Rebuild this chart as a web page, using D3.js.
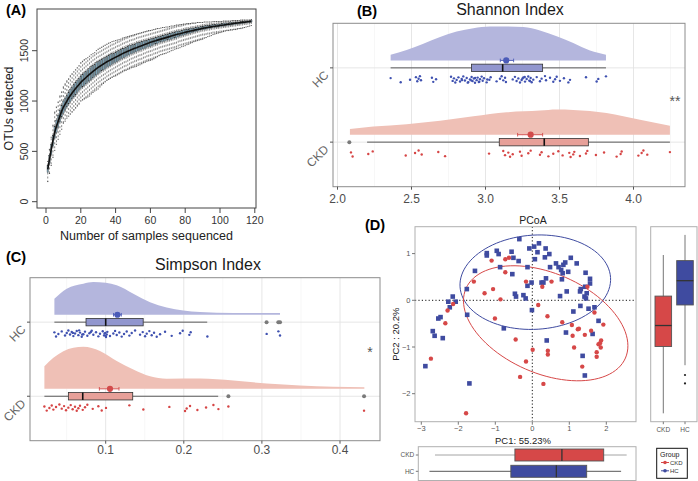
<!DOCTYPE html>
<html><head><meta charset="utf-8">
<script src="https://cdn.jsdelivr.net/npm/d3@7/dist/d3.min.js"></script>
<style>
body{margin:0;background:#fff;}
svg{display:block;font-family:"Liberation Sans",Arial,Helvetica,sans-serif;}
</style></head><body>
<svg id="c" width="698" height="481"></svg>
<script>
// ================= DATA =================
// (A) rarefaction: OTUs detected per number of samples sequenced
const rareMedian=[320,420,520,610,690,750,800,850,900,940,970,1000,1030,1055,1080,1102,1124,1145,1165,1185,1202,1218,1234,1250,1265,1280,1294,1308,1322,1335,1346,1357,1368,1379,1390,1399,1408,1417,1426,1435,1444,1453,1462,1471,1480,1487,1495,1502,1510,1517,1524,1530,1537,1543,1550,1557,1563,1570,1576,1583,1588,1594,1599,1605,1610,1615,1620,1625,1630,1635,1640,1645,1650,1655,1660,1665,1669,1674,1678,1683,1687,1691,1695,1699,1703,1707,1711,1714,1718,1722,1725,1728,1731,1734,1737,1740,1742,1745,1747,1750,1753,1755,1758,1760,1763,1765,1768,1770,1773,1775,1777,1779,1781,1783,1785,1787,1789,1791];
const rareLow=[200,280,360,440,510,570,620,670,720,780,800,830,850,870,890,910,930,950,970,1000,1010,1020,1030,1040,1050,1070,1085,1100,1110,1120,1140,1160,1175,1190,1205,1215,1225,1235,1245,1250,1260,1270,1280,1290,1300,1305,1315,1320,1330,1335,1340,1345,1355,1360,1370,1380,1385,1395,1400,1405,1410,1420,1430,1440,1450,1460,1465,1470,1475,1485,1490,1500,1505,1515,1520,1525,1530,1540,1545,1550,1560,1565,1575,1580,1590,1595,1600,1605,1610,1615,1625,1630,1640,1645,1650,1660,1665,1670,1675,1680,1685,1690,1695,1700,1700,1705,1705,1710,1710,1715,1720,1720,1725,1730,1735,1740,1745,1750];
const rareQ1=[290,380,470,550,630,690,740,790,840,880,910,940,970,995,1020,1040,1060,1085,1105,1125,1140,1155,1170,1185,1200,1215,1230,1245,1260,1275,1285,1300,1310,1320,1335,1345,1355,1365,1375,1385,1395,1405,1415,1425,1435,1440,1450,1460,1470,1475,1485,1490,1500,1505,1510,1520,1525,1535,1540,1545,1550,1560,1565,1570,1580,1585,1590,1595,1600,1605,1610,1615,1620,1625,1630,1640,1645,1650,1655,1660,1665,1670,1675,1680,1685,1690,1695,1700,1705,1710,1710,1715,1720,1720,1725,1730,1730,1735,1735,1740,1740,1745,1745,1750,1750,1755,1755,1760,1760,1765,1765,1770,1770,1775,1775,1780,1780,1785];
const rareQ3=[360,460,570,660,750,810,860,910,960,1000,1030,1060,1090,1115,1140,1165,1185,1205,1225,1250,1265,1280,1295,1310,1325,1340,1355,1365,1380,1390,1400,1410,1420,1430,1440,1450,1460,1470,1475,1485,1495,1500,1510,1520,1525,1535,1540,1550,1555,1560,1565,1575,1580,1585,1590,1595,1600,1605,1610,1615,1620,1625,1630,1635,1640,1645,1650,1655,1660,1665,1670,1675,1680,1685,1690,1695,1695,1700,1705,1710,1715,1715,1720,1725,1725,1730,1735,1735,1740,1745,1745,1750,1750,1755,1755,1760,1760,1760,1765,1765,1770,1770,1775,1775,1775,1780,1780,1780,1785,1785,1785,1790,1790,1790,1795,1795,1795,1800];
const rareHigh=[400,520,640,760,890,940,990,1050,1090,1140,1170,1200,1220,1250,1270,1290,1310,1330,1350,1380,1395,1410,1420,1430,1445,1460,1470,1480,1500,1515,1525,1535,1545,1555,1565,1575,1580,1590,1595,1600,1605,1610,1615,1625,1630,1635,1640,1645,1650,1655,1660,1665,1670,1675,1680,1685,1690,1695,1700,1700,1705,1710,1715,1720,1720,1725,1730,1730,1735,1735,1740,1745,1745,1750,1755,1755,1760,1760,1765,1765,1770,1770,1770,1775,1775,1775,1780,1780,1780,1780,1785,1785,1785,1785,1785,1790,1790,1790,1790,1790,1790,1795,1795,1795,1795,1795,1800,1800,1800,1800,1800,1805,1805,1805,1805,1805,1805,1810];
const rareSamples=d3.range(1,rareMedian.length+1);
const rareXTicks=[0,20,40,60,80,100,120];
const rareYTicks=[0,500,1000,1500];

// (B) Shannon index
const groups=["HC","CKD"];
const shannonTicks=[2.0,2.5,3.0,3.5,4.0];
const shannonMinor=[2.25,2.75,3.25,3.75,4.25];
const shHCGrid=[2.359,2.467,2.580,2.693,2.805,2.918,3.030,3.143,3.256,3.368,3.481,3.593,3.706,3.814];
const shHCDens=[0.17,0.31,0.49,0.69,0.85,0.95,1.0,1.0,0.98,0.88,0.71,0.51,0.29,0.17];
const shCKDGrid=[2.084,2.242,2.467,2.693,2.918,3.143,3.368,3.481,3.593,3.818,4.044,4.246];
const shCKDDens=[0.17,0.24,0.31,0.41,0.54,0.66,0.71,0.74,0.73,0.64,0.44,0.26];
const shHCBox=[2.359,2.905,3.116,3.386,3.814];   // lo, q1, median, q3, hi
const shCKDBox=[2.20,3.093,3.397,3.695,4.246];
const shHCOut=[];
const shCKDOut=[2.08];
const shHCMean=[3.14,3.10,3.19];   // mean, lower, upper
const shCKDMean=[3.305,3.217,3.386];
const shHCPts=[2.359,2.427,2.490,2.530,2.539,2.548,2.557,2.564,2.638,2.647,2.666,2.767,2.778,2.787,2.796,2.805,2.817,2.828,2.839,2.850,2.861,2.873,2.884,2.895,2.906,2.913,2.922,2.929,2.940,2.947,2.958,2.963,2.974,2.981,2.990,3.008,3.026,3.035,3.075,3.098,3.109,3.120,3.132,3.138,3.184,3.199,3.210,3.222,3.233,3.244,3.256,3.267,3.278,3.289,3.296,3.305,3.312,3.323,3.346,3.368,3.379,3.402,3.409,3.436,3.458,3.470,3.481,3.503,3.530,3.560,3.571,3.679,3.751,3.762,3.814,2.905,2.930,2.955,3.012,3.265,3.300,3.250,2.880,2.842];
const shCKDPts=[2.091,2.102,2.208,2.238,2.461,2.524,2.548,2.569,2.681,2.727,3.024,3.120,3.132,3.154,3.166,3.184,3.233,3.244,3.289,3.305,3.368,3.379,3.425,3.458,3.492,3.521,3.566,3.575,3.593,3.600,3.638,3.679,3.688,3.746,3.801,3.886,3.913,3.920,4.033,4.055,4.067,4.093,4.246];

// (C) Simpson index
const simpsonTicks=[0.1,0.2,0.3,0.4];
const simpsonMinor=[0.05,0.15,0.25,0.35];
const siHCGrid=[0.0343,0.0501,0.0714,0.0842,0.1,0.1141,0.1354,0.1568,0.1781,0.1994,0.2208,0.2635,0.3232];
const siHCDens=[0.38,0.62,0.74,0.78,0.76,0.70,0.50,0.30,0.17,0.10,0.064,0.04,0.04];
const siCKDGrid=[0.0215,0.033,0.0586,0.0714,0.0927,0.1141,0.1354,0.1568,0.1781,0.2208,0.2635,0.3061,0.3489,0.3915,0.4312];
const siCKDDens=[0.54,0.74,0.98,1.0,0.90,0.66,0.46,0.30,0.24,0.245,0.20,0.126,0.08,0.048,0.04];
const siHCBox=[0.0343,0.0748,0.1,0.148,0.230];
const siCKDBox=[0.0215,0.0522,0.0706,0.1346,0.244];
const siHCOut=[0.306,0.321,0.3232];
const siCKDOut=[0.2571,0.4308];
const siHCMean=[0.115,0.110,0.120];
const siCKDMean=[0.1055,0.0919,0.117];
const siHCPts=[0.0343,0.0364,0.0394,0.0437,0.0479,0.0501,0.0522,0.0543,0.0565,0.0586,0.0607,0.0629,0.0650,0.0671,0.0693,0.0714,0.0735,0.0765,0.0791,0.0821,0.0842,0.0876,0.0906,0.0927,0.0962,0.0979,0.0996,0.1004,0.1013,0.1021,0.1055,0.1098,0.1120,0.1141,0.1175,0.1205,0.1235,0.1269,0.1303,0.1333,0.1376,0.1440,0.1474,0.1504,0.1525,0.1559,0.1589,0.1619,0.1653,0.1696,0.1760,0.1845,0.1952,0.1986,0.2071,0.2088,0.2302,0.3061,0.3211,0.3232,0.0580,0.0660,0.0700,0.0810,0.1000,0.0985];
const siCKDPts=[0.0215,0.0245,0.0279,0.0309,0.0330,0.0364,0.0407,0.0437,0.0467,0.0492,0.0522,0.0552,0.0577,0.0607,0.0629,0.0650,0.0671,0.0706,0.0735,0.0765,0.0834,0.0906,0.0949,0.1004,0.1303,0.1482,0.1815,0.2016,0.2037,0.2080,0.2174,0.2285,0.2379,0.2443,0.2571,0.4308];

// (D) PCoA
const pcoaXTicks=[-3,-2,-1,0,1,2];
const pcoaYTicks=[-2,-1,0,1];
const hcPC1=[-0.35,-0.08,0.05,0.18,0.14,0.36,0.46,0.34,0.07,-0.56,-0.37,-0.51,-0.96,-0.91,-1.23,-1.23,-0.87,-1.55,-0.54,-0.13,0.64,0.84,0.89,0.71,0.78,0.97,1.04,1.20,0.48,0.82,1.44,1.56,1.56,1.43,1.31,1.29,1.47,1.41,1.45,0.93,0.80,0.37,0.25,0.30,-0.02,-0.13,-0.24,-0.18,-0.47,-0.44,0.75,-0.01,1.11,1.30,1.52,1.68,1.79,1.63,0.91,0.39,1.36,1.42,-0.77,-1.76,-1.77,-2.15,-2.27,-2.07,-2.23,-2.54,-2.48,-2.69,-2.64,-2.42,-2.89,-1.70];
const hcPC2=[1.31,1.11,1.15,1.22,1.03,1.11,0.99,0.92,0.88,1.04,0.84,0.91,1.06,0.99,1.01,0.96,0.71,0.63,0.56,0.71,0.79,0.76,0.81,0.71,0.65,0.61,0.91,0.79,0.71,0.58,0.59,0.46,0.36,0.29,0.24,0.19,0.15,0.08,0.04,0.19,0.45,0.47,0.38,0.38,0.38,0.31,0.11,0.04,0.14,0.08,0.09,-0.21,-0.24,-0.12,-0.18,-0.15,-0.44,-0.72,-0.69,-0.86,-1.19,-1.61,-0.60,-0.31,0.24,0.08,-0.03,-0.03,-0.15,-0.39,-0.36,-0.66,-0.76,-0.81,-1.41,-1.78];
const ckdPC1=[-1.10,-0.73,-0.63,-0.73,-1.58,-1.29,-1.06,-0.86,-0.17,0.52,0.27,0.16,0.41,-1.01,-0.45,0.01,0.42,0.42,-0.17,-0.33,0.30,0.81,1.07,1.23,1.26,1.09,1.13,1.42,1.68,1.49,1.59,1.86,1.83,1.79,1.85,1.74,1.74,1.92,1.35,-2.14,-2.29,-2.35,-2.74,-1.79];
const ckdPC2=[0.85,0.88,0.91,0.60,0.40,0.15,0.24,0.02,0.40,0.40,0.29,-0.10,-0.34,-0.39,-0.84,-1.06,-1.08,-1.16,-1.31,-1.64,-1.79,-0.47,-0.53,-0.62,-0.61,-0.76,-1.01,-0.74,-0.26,0.29,-0.65,-0.86,-0.92,-0.94,-1.01,-1.11,-1.21,-0.52,-1.42,-0.08,-0.22,-0.49,-1.25,-2.42];
const ellHCCenter=[0.081,0.388], ellHCAxisU=[2.034,0.0985], ellHCAxisV=[0.0777,-1.007];
const ellCKDCenter=[0.362,-0.492], ellCKDAxisU=[2.155,-0.745], ellCKDAxisV=[-0.541,-0.981];
// marginal boxplots [lo, q1, median, q3, hi]
const pc2BoxCKD=[-2.42,-0.99,-0.54,0.09,0.97];
const pc2BoxHC=[-1.39,-0.10,0.42,0.85,1.40];
const pc2OutHC=[-1.60,-1.78];
const pc1BoxCKD=[-2.63,-0.47,0.80,1.93,2.55];
const pc1BoxHC=[-2.78,-0.58,0.65,1.47,2.40];

// ================= DRAW =================
const svg=d3.select("#c");
const TXT="#4D4D4D";
function label(x,y,t,opt={}){
  const e=svg.append("text").attr("x",x).attr("y",y).text(t)
    .attr("font-size",opt.size||12).attr("fill",opt.fill||"#000")
    .attr("text-anchor",opt.anchor||"start");
  if(opt.bold) e.attr("font-weight","bold");
  if(opt.transform) e.attr("transform",opt.transform);
  return e;
}

// ---------- Panel A ----------
(function(){
  const L=37,R=256,T=9,B=208;
  const x=d3.scaleLinear().domain([0,120]).range([46,254.8]);
  const y=d3.scaleLinear().domain([0,1500]).range([201.7,50.7]);
  const g=svg.append("g");
  const bw=1.4;
  rareSamples.forEach((n,i)=>{
    const cx=x(n);
    g.append("line").attr("x1",cx).attr("x2",cx).attr("y1",y(rareQ3[i])).attr("y2",y(rareHigh[i]))
      .attr("stroke","#3a3a3a").attr("stroke-width",0.6).attr("stroke-dasharray","2,2");
    g.append("line").attr("x1",cx).attr("x2",cx).attr("y1",y(rareQ1[i])).attr("y2",y(rareLow[i]))
      .attr("stroke","#3a3a3a").attr("stroke-width",0.6).attr("stroke-dasharray","2,2");
    [rareLow[i],rareHigh[i]].forEach(v=>g.append("line").attr("x1",cx-0.6).attr("x2",cx+0.6)
      .attr("y1",y(v)).attr("y2",y(v)).attr("stroke","#333").attr("stroke-width",0.8));
  });
  rareSamples.forEach((n,i)=>{
    const cx=x(n);
    g.append("rect").attr("x",cx-bw/2).attr("width",bw).attr("y",y(rareQ3[i]))
      .attr("height",Math.max(0.5,y(rareQ1[i])-y(rareQ3[i])))
      .attr("fill","#7FA5B8").attr("stroke","#2b2b2b").attr("stroke-width",0.35);
  });
  g.append("path").datum(rareSamples.map((n,i)=>[x(n),y(rareMedian[i])]))
    .attr("d",d3.line()).attr("fill","none").attr("stroke","#111").attr("stroke-width",1.6);
  svg.append("rect").attr("x",L).attr("y",T).attr("width",R-L).attr("height",B-T)
    .attr("fill","none").attr("stroke","#444").attr("stroke-width",1);
  rareXTicks.forEach(v=>{
    svg.append("line").attr("x1",x(v)).attr("x2",x(v)).attr("y1",B).attr("y2",B+5).attr("stroke","#444");
    label(x(v),B+15.5,String(v),{size:10.5,anchor:"middle",fill:"#333"});
  });
  rareYTicks.forEach(v=>{
    svg.append("line").attr("x1",L).attr("x2",L-5).attr("y1",y(v)).attr("y2",y(v)).attr("stroke","#444");
    label(0,0,String(v),{size:10.5,anchor:"middle",fill:"#333",transform:`translate(${L-9},${y(v)}) rotate(-90)`});
  });
  label((L+R)/2,240,"Number of samples sequenced",{size:12.5,anchor:"middle",fill:"#222"});
  label(0,0,"OTUs detected",{size:12.5,anchor:"middle",fill:"#222",transform:`translate(13,${(T+B)/2}) rotate(-90)`});
  label(6,15,"(A)",{size:14.5,bold:true});
})();

// ---------- Raincloud panels (B, C) ----------
function rain(o){
  const x=d3.scaleLinear().domain(o.dom).range(o.rng);
  const y=d3.scalePoint().domain(groups).range([o.t,o.b]).padding(0.6);
  const step=y.step();
  const g=svg.append("g");
  g.append("rect").attr("x",o.l).attr("y",o.t).attr("width",o.r-o.l).attr("height",o.b-o.t).attr("fill","#fff");
  o.minor.forEach(v=>{ if(x(v)>o.l&&x(v)<o.r) g.append("line").attr("x1",x(v)).attr("x2",x(v)).attr("y1",o.t).attr("y2",o.b).attr("stroke","#F2F2F2").attr("stroke-width",0.6);});
  o.ticks.forEach(v=>{ if(x(v)>o.l&&x(v)<o.r) g.append("line").attr("x1",x(v)).attr("x2",x(v)).attr("y1",o.t).attr("y2",o.b).attr("stroke","#E3E3E3").attr("stroke-width",0.9);});
  groups.forEach(k=>g.append("line").attr("x1",o.l).attr("x2",o.r).attr("y1",y(k)).attr("y2",y(k)).attr("stroke","#E3E3E3").attr("stroke-width",0.9));
  const S={HC:o.hc,CKD:o.ckd};
  const col={HC:{v:"#B4B6DD",b:"#9196CE",p:"#3F51B0",m:"#4B5BB8"},CKD:{v:"#EFC0B6",b:"#E7A099",p:"#D64545",m:"#D24B4B"}};
  groups.forEach(k=>{
    const s=S[k], cy=y(k), base=cy-0.1*step;
    const area=d3.area().curve(d3.curveMonotoneX).x(d=>x(d[0])).y0(base).y1(d=>base-d[1]*o.vh);
    g.append("path").datum(s.grid.map((v,i)=>[v,s.dens[i]])).attr("d",area).attr("fill",col[k].v).attr("stroke","none");
    const bx=s.box, bh=0.1*step;
    g.append("line").attr("x1",x(bx[0])).attr("x2",x(bx[1])).attr("y1",cy).attr("y2",cy).attr("stroke","#333").attr("stroke-width",0.8);
    g.append("line").attr("x1",x(bx[3])).attr("x2",x(bx[4])).attr("y1",cy).attr("y2",cy).attr("stroke","#333").attr("stroke-width",0.8);
    g.append("rect").attr("x",x(bx[1])).attr("width",x(bx[3])-x(bx[1])).attr("y",cy-bh/2).attr("height",bh)
      .attr("fill",col[k].b).attr("stroke","#333").attr("stroke-width",0.8);
    g.append("line").attr("x1",x(bx[2])).attr("x2",x(bx[2])).attr("y1",cy-bh/2).attr("y2",cy+bh/2).attr("stroke","#111").attr("stroke-width",1.6);
    s.out.forEach(v=>g.append("circle").attr("cx",x(v)).attr("cy",cy).attr("r",2).attr("fill","#7A7A7A"));
    s.pts.forEach((v,i)=>{
      const j=((i*0.6180339887+0.31)%1);
      g.append("circle").attr("cx",x(v)).attr("cy",cy+(0.11+0.09*j)*step).attr("r",1.2).attr("fill",col[k].p);
    });
    const m=s.mean;
    g.append("line").attr("x1",x(m[1])).attr("x2",x(m[2])).attr("y1",base).attr("y2",base).attr("stroke",col[k].m).attr("stroke-width",0.9);
    [m[1],m[2]].forEach(v=>g.append("line").attr("x1",x(v)).attr("x2",x(v)).attr("y1",base-1.8).attr("y2",base+1.8).attr("stroke",col[k].m).attr("stroke-width",0.9));
    g.append("circle").attr("cx",x(m[0])).attr("cy",base).attr("r",3.1).attr("fill",col[k].m);
  });
  g.append("rect").attr("x",o.l).attr("y",o.t).attr("width",o.r-o.l).attr("height",o.b-o.t)
    .attr("fill","none").attr("stroke","#8C8C8C").attr("stroke-width",1);
  o.ticks.forEach(v=>{
    g.append("line").attr("x1",x(v)).attr("x2",x(v)).attr("y1",o.b).attr("y2",o.b+3).attr("stroke","#555");
    label(x(v),o.b+o.tickOff,o.fmt(v),{size:12,anchor:"middle",fill:TXT});
  });
  groups.forEach(k=>{
    g.append("line").attr("x1",o.l-3).attr("x2",o.l).attr("y1",y(k)).attr("y2",y(k)).attr("stroke","#555");
    label(0,0,k,{size:12,anchor:"end",fill:"#666",transform:`translate(${o.l-3.5},${y(k)+8}) rotate(-45)`});
  });
  label(o.titleX,o.titleY,o.title,{size:16,anchor:"middle",fill:"#1a1a1a"});
  label(o.sigX,o.sigY,o.sig,{size:14,anchor:"middle",fill:"#555"});
}

rain({l:333,r:685,t:23.3,b:186.7,dom:[2,4],rng:[337.5,633.5],ticks:shannonTicks,minor:shannonMinor,
  fmt:d3.format(".1f"),tickOff:16.5,vh:34,title:"Shannon Index",titleX:510,titleY:15,sig:"**",sigX:675,sigY:106,
  hc:{grid:shHCGrid,dens:shHCDens,box:shHCBox,out:shHCOut,mean:shHCMean,pts:shHCPts},
  ckd:{grid:shCKDGrid,dens:shCKDDens,box:shCKDBox,out:shCKDOut,mean:shCKDMean,pts:shCKDPts}});
label(357,16,"(B)",{size:14.5,bold:true});

rain({l:30,r:380,t:277.7,b:440.7,dom:[0,0.4],rng:[27.6,340],ticks:simpsonTicks,minor:simpsonMinor,
  fmt:d3.format(".1f"),tickOff:13.5,vh:42,title:"Simpson Index",titleX:208,titleY:270,sig:"*",sigX:370,sigY:357,
  hc:{grid:siHCGrid,dens:siHCDens,box:siHCBox,out:siHCOut,mean:siHCMean,pts:siHCPts},
  ckd:{grid:siCKDGrid,dens:siCKDDens,box:siCKDBox,out:siCKDOut,mean:siCKDMean,pts:siCKDPts}});
label(6,262,"(C)",{size:14.5,bold:true});

// ---------- Panel D ----------
(function(){
  const L=415,R=636,T=226.7,B=421.7;
  const x=d3.scaleLinear().domain([0,1]).range([532.3,569.3]);
  const y=d3.scaleLinear().domain([0,1]).range([300.3,253.6]);
  const red="#D64848", blue="#3F4BA0";
  const g=svg.append("g");
  g.append("defs").append("clipPath").attr("id","clipD").append("rect").attr("x",L).attr("y",T).attr("width",R-L).attr("height",B-T);
  const pg=g.append("g").attr("clip-path","url(#clipD)");
  pg.append("line").attr("x1",x(0)).attr("x2",x(0)).attr("y1",T).attr("y2",B).attr("stroke","#111").attr("stroke-dasharray","1.2,2.2");
  pg.append("line").attr("x1",L).attr("x2",R).attr("y1",y(0)).attr("y2",y(0)).attr("stroke","#111").attr("stroke-dasharray","1.2,2.2");
  function ell(c,u,v,color){
    const pts=d3.range(0,101).map(i=>{const t=i/100*2*Math.PI;
      return [x(c[0]+u[0]*Math.cos(t)+v[0]*Math.sin(t)), y(c[1]+u[1]*Math.cos(t)+v[1]*Math.sin(t))];});
    pg.append("path").attr("d",d3.line()(pts)).attr("fill","none").attr("stroke",color).attr("stroke-width",1);
  }
  ell(ellHCCenter,ellHCAxisU,ellHCAxisV,blue);
  ell(ellCKDCenter,ellCKDAxisU,ellCKDAxisV,red);
  hcPC1.forEach((v,i)=>pg.append("rect").attr("x",x(v)-2.3).attr("y",y(hcPC2[i])-2.3).attr("width",4.6).attr("height",4.6).attr("fill",blue));
  ckdPC1.forEach((v,i)=>pg.append("circle").attr("cx",x(v)).attr("cy",y(ckdPC2[i])).attr("r",2.2).attr("fill",red));
  g.append("rect").attr("x",L).attr("y",T).attr("width",R-L).attr("height",B-T).attr("fill","none").attr("stroke","#B0B0B0");
  pcoaXTicks.forEach(v=>{
    g.append("line").attr("x1",x(v)).attr("x2",x(v)).attr("y1",B).attr("y2",B+3).attr("stroke","#777");
    label(x(v),B+9.5,v<0?"\u2212"+Math.abs(v):String(v),{size:7.5,anchor:"middle",fill:"#555"});
  });
  pcoaYTicks.forEach(v=>{
    g.append("line").attr("x1",L).attr("x2",L-3).attr("y1",y(v)).attr("y2",y(v)).attr("stroke","#777");
    label(L-4.5,y(v)+2.7,v<0?"\u2212"+Math.abs(v):String(v),{size:7.5,anchor:"end",fill:"#555"});
  });
  label(533,224,"PCoA",{size:10.5,anchor:"middle",fill:"#222"});
  label(523,443.5,"PC1: 55.23%",{size:9.5,anchor:"middle",fill:"#222"});
  label(0,0,"PC2 : 20.2%",{size:9.5,anchor:"middle",fill:"#222",transform:`translate(399,${(T+B)/2+10}) rotate(-90)`});
  label(365,230,"(D)",{size:14.5,bold:true});

  const RL=650.7,RR=697,centers={CKD:663.3,HC:685},hw=8.3;
  g.append("rect").attr("x",RL).attr("y",T).attr("width",RR-RL).attr("height",B-T).attr("fill","none").attr("stroke","#B0B0B0");
  [["CKD",pc2BoxCKD,red,[]],["HC",pc2BoxHC,blue,pc2OutHC]].forEach(([k,b,c,out])=>{
    const cx=centers[k];
    g.append("line").attr("x1",cx).attr("x2",cx).attr("y1",y(b[0])).attr("y2",y(b[4])).attr("stroke","#666").attr("stroke-width",0.9);
    g.append("rect").attr("x",cx-hw).attr("width",2*hw).attr("y",y(b[3])).attr("height",y(b[1])-y(b[3])).attr("fill",c).attr("stroke","#555").attr("stroke-width",0.9);
    g.append("line").attr("x1",cx-hw).attr("x2",cx+hw).attr("y1",y(b[2])).attr("y2",y(b[2])).attr("stroke","#333").attr("stroke-width",1.3);
    out.forEach(v=>g.append("circle").attr("cx",cx).attr("cy",y(v)).attr("r",1.1).attr("fill","#222"));
    g.append("line").attr("x1",cx).attr("x2",cx).attr("y1",B).attr("y2",B+2.5).attr("stroke","#777");
    label(cx,B+10,k,{size:6.5,anchor:"middle",fill:"#555"});
  });

  const BL=418.3,BT=446.7,BB=480.5,rows={CKD:455,HC:471.3},hh=6;
  g.append("rect").attr("x",BL).attr("y",BT).attr("width",R-BL).attr("height",BB-BT).attr("fill","none").attr("stroke","#B0B0B0");
  [["CKD",pc1BoxCKD,red,"#9A9A9A"],["HC",pc1BoxHC,blue,"#444"]].forEach(([k,b,c,wc])=>{
    const cy=rows[k];
    g.append("line").attr("x1",x(b[0])).attr("x2",x(b[4])).attr("y1",cy).attr("y2",cy).attr("stroke",wc).attr("stroke-width",0.9);
    g.append("rect").attr("x",x(b[1])).attr("width",x(b[3])-x(b[1])).attr("y",cy-hh).attr("height",2*hh).attr("fill",c).attr("stroke","#555").attr("stroke-width",0.9);
    g.append("line").attr("x1",x(b[2])).attr("x2",x(b[2])).attr("y1",cy-hh).attr("y2",cy+hh).attr("stroke","#333").attr("stroke-width",1.3);
    g.append("line").attr("x1",BL-2.5).attr("x2",BL).attr("y1",cy).attr("y2",cy).attr("stroke","#777");
    label(BL-4,cy+2.3,k,{size:6.5,anchor:"end",fill:"#555"});
  });

  g.append("rect").attr("x",656.7).attr("y",448.3).attr("width",30.6).attr("height",30).attr("fill","#fff").attr("stroke","#111").attr("stroke-width",1);
  label(660,456.5,"Group",{size:7,fill:"#222"});
  [["CKD",red,462.5],["HC",blue,470.8]].forEach(([k,c,yy])=>{
    g.append("line").attr("x1",661).attr("x2",669).attr("y1",yy).attr("y2",yy).attr("stroke",c).attr("stroke-width",1);
    g.append("circle").attr("cx",665).attr("cy",yy).attr("r",1.8).attr("fill",c);
    label(670,yy+2.2,k,{size:6,fill:"#333"});
  });
})();
</script>
</body></html>
